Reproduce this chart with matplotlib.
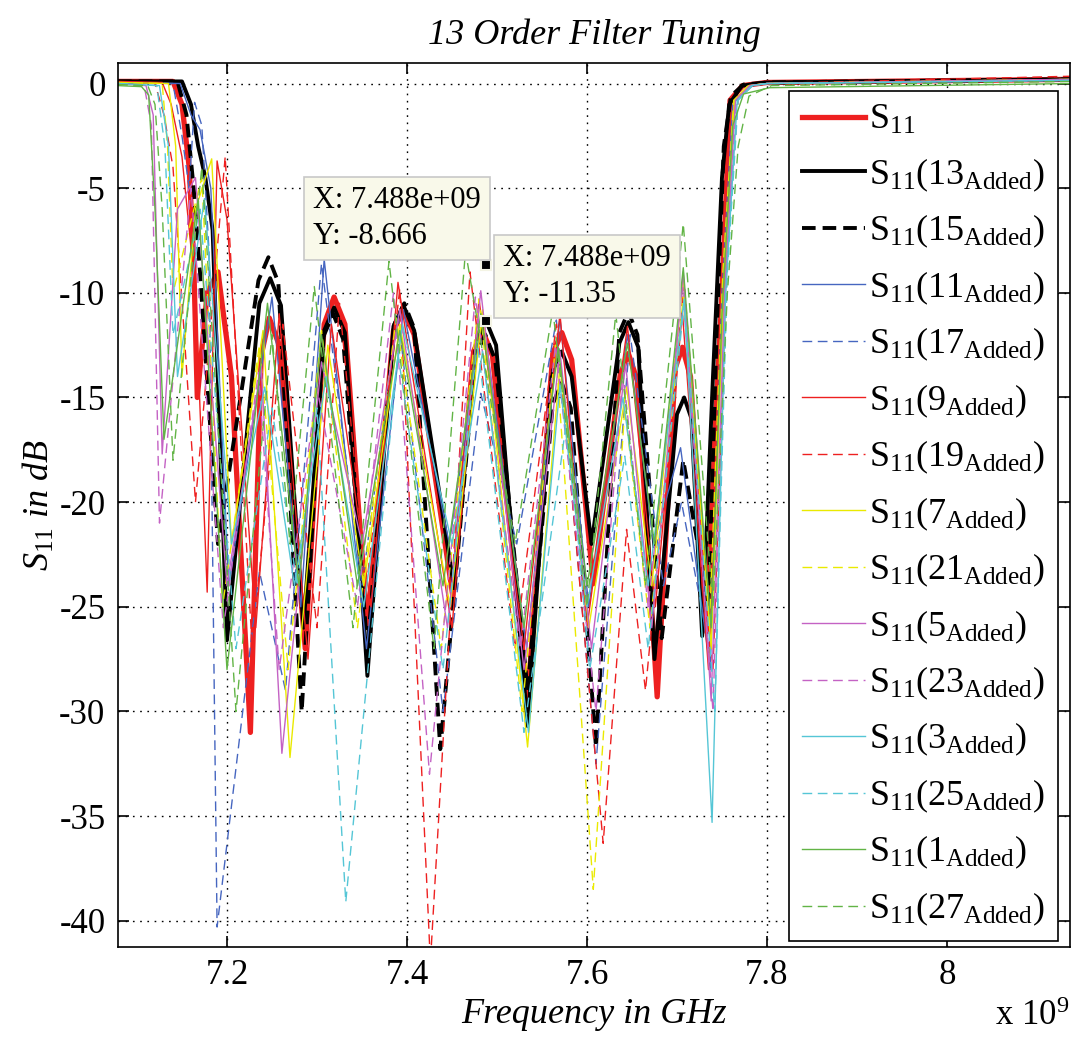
import numpy as np
import matplotlib
matplotlib.use("Agg")
import matplotlib.pyplot as plt

plt.rcParams['font.family'] = ['Liberation Serif', 'DejaVu Serif']
plt.rcParams['mathtext.fontset'] = 'custom'
plt.rcParams['mathtext.rm'] = 'Liberation Serif'
plt.rcParams['mathtext.it'] = 'Liberation Serif:italic'

# ---- data (frequency in GHz, S11 in dB) ----
f_s11 = [7.079, 7.140, 7.150, 7.158, 7.163, 7.167, 7.178, 7.190, 7.205, 7.226, 7.238, 7.247, 7.258,
         7.287, 7.308, 7.319, 7.331, 7.356, 7.385, 7.396, 7.408, 7.451, 7.474, 7.484, 7.495,
         7.534, 7.562, 7.572, 7.583, 7.607, 7.637, 7.646, 7.656, 7.678, 7.698, 7.706, 7.715,
         7.733, 7.742, 7.750, 7.759, 7.773, 7.800, 8.140]
db_s11 = [0.1, 0.1, -1.0, -4.0, -8.5, -15.0, -10.0, -9.0, -14.0, -31.0, -13.0, -11.2, -12.5,
          -27.0, -11.5, -10.2, -11.5, -26.0, -11.8, -10.8, -12.0, -24.5, -12.8, -11.8, -13.0,
          -29.5, -12.9, -11.9, -13.2, -23.9, -13.9, -12.9, -14.2, -29.3, -13.6, -12.6, -14.0,
          -26.2, -17.0, -10.0, -0.8, -0.1, 0.05, 0.2]

f_13 = [7.079, 7.150, 7.160, 7.168, 7.176, 7.184, 7.200, 7.236, 7.248, 7.260, 7.285, 7.308, 7.319,
        7.331, 7.356, 7.385, 7.396, 7.408, 7.452, 7.477, 7.488, 7.499, 7.534, 7.561, 7.572, 7.583,
        7.605, 7.636, 7.646, 7.657, 7.675, 7.700, 7.708, 7.716, 7.728, 7.740, 7.750, 7.758, 7.772,
        7.800, 8.140]
db_13 = [0.1, 0.1, -1.0, -3.0, -4.5, -7.0, -26.6, -10.5, -9.3, -10.6, -26.0, -11.8, -10.7,
         -11.9, -28.3, -11.6, -10.6, -11.8, -24.0, -12.3, -11.35, -12.5, -30.7, -13.8, -12.8, -14.0,
         -22.0, -12.4, -11.4, -12.6, -27.5, -15.8, -15.0, -16.0, -26.4, -14.0, -4.5, -1.0, -0.1,
         0.05, 0.2]

f_15 = [7.079, 7.145, 7.155, 7.163, 7.170, 7.190, 7.235, 7.246, 7.257, 7.283, 7.307, 7.318, 7.329,
        7.356, 7.386, 7.397, 7.408, 7.437, 7.476, 7.487, 7.498, 7.534, 7.562, 7.572, 7.582,
        7.610, 7.636, 7.646, 7.656, 7.683, 7.707, 7.735, 7.744, 7.752, 7.760, 7.774, 7.800, 8.140]
db_15 = [0.1, 0.1, -1.5, -5.0, -9.0, -22.0, -9.4, -8.3, -9.5, -30.0, -12.1, -11.0, -12.2,
         -27.0, -11.5, -10.5, -11.7, -31.8, -13.0, -12.0, -13.2, -29.0, -15.3, -14.3, -15.5,
         -31.7, -11.9, -10.9, -12.0, -26.5, -18.0, -25.0, -12.0, -3.0, -0.6, -0.05, 0.05, 0.2]

f_11 = [7.079, 7.148, 7.160, 7.170, 7.182, 7.202, 7.250, 7.282, 7.308, 7.355, 7.396, 7.447, 7.484,
        7.533, 7.570, 7.602, 7.645, 7.674, 7.704, 7.737, 7.750, 7.762, 7.778, 7.800, 8.140]
db_11 = [0.05, 0.0, -1.5, -2.2, -5.0, -24.0, -10.2, -25.0, -8.4, -27.0, -10.8, -22.0, -11.0,
         -27.0, -11.2, -25.0, -12.0, -22.0, -17.4, -28.0, -10.0, -1.0, -0.15, 0.0, 0.15]

f_17 = [7.079, 7.140, 7.150, 7.158, 7.164, 7.172, 7.180, 7.189, 7.236, 7.265, 7.305, 7.350, 7.390,
        7.440, 7.482, 7.522, 7.566, 7.610, 7.648, 7.685, 7.705, 7.736, 7.752, 7.764, 7.780, 7.800, 8.140]
db_17 = [0.05, 0.0, -2.5, -5.0, -0.9, -2.0, -8.0, -40.3, -23.3, -29.0, -8.6, -24.0, -11.0,
         -30.0, -14.8, -22.0, -11.3, -32.5, -12.0, -24.0, -20.0, -27.0, -9.0, -0.8, -0.1, 0.0, 0.15]

f_9 = [7.079, 7.128, 7.138, 7.150, 7.165, 7.178, 7.189, 7.200, 7.232, 7.258, 7.290, 7.316, 7.360,
       7.390, 7.450, 7.480, 7.530, 7.570, 7.600, 7.645, 7.676, 7.706, 7.735, 7.752, 7.764, 7.780,
       7.800, 8.140]
db_9 = [0.1, 0.05, -1.0, -3.5, -10.0, -24.3, -3.7, -6.5, -26.0, -11.0, -27.5, -11.5, -25.0,
        -9.5, -26.0, -10.3, -27.0, -11.0, -26.0, -11.6, -25.0, -10.9, -28.0, -9.0, -0.8, -0.1,
        0.0, 0.15]

f_19 = [7.079, 7.120, 7.130, 7.140, 7.165, 7.198, 7.228, 7.262, 7.300, 7.325, 7.355, 7.392, 7.426,
        7.470, 7.520, 7.566, 7.618, 7.644, 7.665, 7.708, 7.740, 7.756, 7.768, 7.784, 7.800, 8.140]
db_19 = [0.05, 0.0, -1.5, -4.0, -20.0, -3.5, -27.0, -11.5, -26.0, -10.5, -24.0, -9.8, -42.0,
         -9.0, -27.0, -11.5, -36.3, -21.3, -29.0, -9.5, -28.0, -8.0, -0.7, -0.1, 0.0, 0.35]

f_7 = [7.079, 7.135, 7.143, 7.150, 7.165, 7.183, 7.205, 7.240, 7.270, 7.312, 7.352, 7.392, 7.448,
       7.484, 7.534, 7.570, 7.602, 7.644, 7.672, 7.707, 7.738, 7.752, 7.764, 7.780, 7.800, 8.140]
db_7 = [0.05, 0.0, -3.0, -14.0, -6.0, -3.6, -22.0, -11.8, -32.2, -12.5, -24.0, -11.5, -25.0,
        -10.8, -31.7, -13.5, -26.0, -14.5, -24.0, -9.3, -27.0, -9.5, -0.8, -0.1, 0.0, 0.2]

f_21 = [7.079, 7.128, 7.134, 7.140, 7.172, 7.195, 7.236, 7.268, 7.305, 7.345, 7.388, 7.438, 7.480,
        7.528, 7.565, 7.607, 7.642, 7.670, 7.707, 7.736, 7.751, 7.763, 7.779, 7.800, 8.140]
db_21 = [0.05, 0.0, -3.0, -10.0, -4.5, -25.0, -12.5, -28.0, -11.8, -26.0, -11.2, -27.0, -10.3,
         -30.0, -12.5, -38.5, -15.5, -26.0, -10.2, -26.0, -9.0, -0.8, -0.1, 0.0, 0.2]

f_5 = [7.079, 7.110, 7.118, 7.128, 7.145, 7.165, 7.200, 7.238, 7.261, 7.305, 7.350, 7.392, 7.445,
       7.482, 7.530, 7.570, 7.605, 7.643, 7.672, 7.707, 7.738, 7.753, 7.765, 7.781, 7.800, 8.140]
db_5 = [0.0, -0.1, -1.5, -17.7, -6.0, -4.5, -24.0, -13.5, -32.0, -13.3, -22.0, -10.8, -26.0,
        -9.9, -28.0, -12.8, -27.0, -13.4, -26.0, -9.0, -29.5, -10.0, -0.8, -0.1, 0.0, 0.2]

f_23 = [7.079, 7.108, 7.116, 7.125, 7.160, 7.196, 7.235, 7.258, 7.300, 7.345, 7.385, 7.425, 7.476,
        7.526, 7.565, 7.610, 7.640, 7.668, 7.706, 7.740, 7.754, 7.766, 7.782, 7.800, 8.140]
db_23 = [0.0, -0.1, -2.0, -21.0, -5.0, -26.0, -13.8, -28.0, -14.5, -25.0, -10.0, -33.0, -10.2,
         -27.0, -12.5, -30.0, -13.8, -25.0, -9.6, -30.0, -10.0, -0.8, -0.1, 0.0, 0.2]

f_3 = [7.079, 7.125, 7.135, 7.145, 7.175, 7.205, 7.242, 7.275, 7.310, 7.352, 7.395, 7.450, 7.484,
       7.535, 7.570, 7.600, 7.640, 7.668, 7.708, 7.739, 7.754, 7.767, 7.783, 7.800, 8.140]
db_3 = [0.0, -0.1, -3.0, -14.0, -5.5, -22.0, -14.5, -24.0, -14.0, -25.0, -11.5, -22.0, -12.8,
        -31.0, -14.4, -25.0, -15.0, -24.0, -10.3, -35.3, -10.0, -0.8, -0.1, 0.0, 0.15]

f_25 = [7.079, 7.122, 7.131, 7.140, 7.170, 7.210, 7.250, 7.278, 7.300, 7.332, 7.390, 7.440, 7.478,
        7.530, 7.578, 7.603, 7.642, 7.668, 7.708, 7.742, 7.756, 7.768, 7.784, 7.800, 8.140]
db_25 = [0.0, -0.1, -3.0, -12.0, -6.0, -27.0, -15.5, -24.0, -15.5, -39.1, -12.9, -28.0, -12.3,
         -31.0, -15.9, -28.0, -17.8, -27.0, -10.5, -30.0, -9.0, -0.8, -0.1, 0.0, 0.15]

f_1 = [7.079, 7.105, 7.113, 7.120, 7.130, 7.168, 7.200, 7.245, 7.280, 7.305, 7.345, 7.392, 7.440,
       7.482, 7.530, 7.568, 7.600, 7.645, 7.675, 7.707, 7.738, 7.750, 7.762, 7.774, 7.803, 8.140]
db_1 = [-0.1, -0.15, -0.55, -6.0, -17.0, -5.5, -28.0, -10.5, -24.0, -12.0, -24.0, -11.8, -24.0,
        -11.0, -26.0, -12.6, -24.0, -12.4, -22.0, -8.8, -26.0, -11.0, -2.0, -0.5, -0.2, 0.0]

f_27 = [7.079, 7.112, 7.120, 7.128, 7.140, 7.172, 7.210, 7.250, 7.270, 7.297, 7.340, 7.380, 7.430,
        7.465, 7.520, 7.562, 7.600, 7.632, 7.665, 7.707, 7.740, 7.756, 7.768, 7.780, 7.805, 8.140]
db_27 = [-0.05, -0.1, -1.0, -6.0, -18.0, -4.0, -30.0, -12.0, -22.0, -9.7, -26.0, -8.5, -27.0,
         -8.0, -22.0, -10.8, -25.0, -11.0, -24.0, -6.7, -25.0, -10.0, -3.0, -0.6, -0.1, 0.1]

labels = [r'S$_{11}$'] + [r'S$_{11}$(%d$_{\mathrm{Added}}$)' % n
                          for n in [13, 15, 11, 17, 9, 19, 7, 21, 5, 23, 3, 25, 1, 27]]

tip_x = 7.488
tip_y = [-8.666, -11.35]

# ---- styles ----
red, blk, blu = '#ee2020', 'black', '#4666c0'
yel, mag, cya, grn = '#eaea00', '#c462c4', '#55c6d6', '#62b446'
thin_dash = (0, (7, 4))
series = [
    (f_s11, db_s11, red, 3.8, '-'),
    (f_13, db_13, blk, 2.8, '-'),
    (f_15, db_15, blk, 2.8, (0, (3.5, 1.8))),
    (f_11, db_11, blu, 1.0, '-'),
    (f_17, db_17, blu, 1.0, thin_dash),
    (f_9, db_9, red, 1.0, '-'),
    (f_19, db_19, red, 1.0, thin_dash),
    (f_7, db_7, yel, 1.0, '-'),
    (f_21, db_21, yel, 1.0, thin_dash),
    (f_5, db_5, mag, 1.0, '-'),
    (f_23, db_23, mag, 1.0, thin_dash),
    (f_3, db_3, cya, 1.0, '-'),
    (f_25, db_25, cya, 1.0, thin_dash),
    (f_1, db_1, grn, 1.0, '-'),
    (f_27, db_27, grn, 1.0, thin_dash),
]

fig = plt.figure(figsize=(10.74, 10.39), dpi=100)
ax = fig.add_axes([118/1074, 1 - 946.5/1039, (1070 - 118)/1074, (946.5 - 63)/1039])

for (f, d, c, lw, ls), lab in zip(series, labels):
    ax.plot(f, d, color=c, lw=lw, ls=ls, label=lab)

ax.set_xlim(7.0789, 8.1367)
ax.set_ylim(-41.23, 0.98)
ax.set_xticks([7.2, 7.4, 7.6, 7.8, 8.0])
ax.set_xticklabels(['7.2', '7.4', '7.6', '7.8', '8'])
ax.set_yticks([0, -5, -10, -15, -20, -25, -30, -35, -40])
ax.set_yticklabels(['0', '-5', '-10', '-15', '-20', '-25', '-30', '-35', '-40'])
ax.tick_params(direction='in', length=8, width=1.2, top=True, right=True,
               labelsize=25, pad=9)
ax.grid(True, color='k', linestyle=(0, (1.2, 4)), linewidth=1.0)
for s in ax.spines.values():
    s.set_linewidth(1.2)

ax.set_title('13 Order Filter Tuning', fontsize=26, fontstyle='italic', pad=14)
ax.set_xlabel('Frequency in GHz', fontsize=26, fontstyle='italic', labelpad=4)
ax.set_ylabel(r'$S_{\mathit{11}}$ in dB', fontsize=26, fontstyle='italic', labelpad=2)
fig.text(0.996, 0.006, r'x 10$^{9}$', ha='right', va='bottom', fontsize=25)

# data tips
ax.plot([tip_x, tip_x], tip_y, 's', color='k', ms=7, mec='#f4f4e4', mew=1.5, zorder=6)
ax.annotate('X: %.3fe+09\nY: %.4g' % (tip_x, tip_y[0]), xy=(tip_x, tip_y[0]),
            xytext=(-173, 79), textcoords='offset pixels', ha='left', va='top',
            fontsize=22, linespacing=1.3, zorder=7,
            bbox=dict(boxstyle='square,pad=0.3', fc='#f9f9ea', ec='#c8c8c8', lw=1.2))
ax.annotate('X: %.3fe+09\nY: %.4g' % (tip_x, tip_y[1]), xy=(tip_x, tip_y[1]),
            xytext=(17, 77), textcoords='offset pixels', ha='left', va='top',
            fontsize=22, linespacing=1.3, zorder=7,
            bbox=dict(boxstyle='square,pad=0.3', fc='#f9f9ea', ec='#c8c8c8', lw=1.2))

leg = ax.legend(loc='upper left', bbox_to_anchor=(0.705, 0.968), fontsize=26,
                frameon=True, fancybox=False, framealpha=1, edgecolor='k',
                handlelength=1.75, handletextpad=0.12, labelspacing=0.53,
                borderpad=0.35, borderaxespad=0)
leg.get_frame().set_linewidth(1.2)
leg.set_zorder(8)

fig.savefig('out.png', dpi=100)
